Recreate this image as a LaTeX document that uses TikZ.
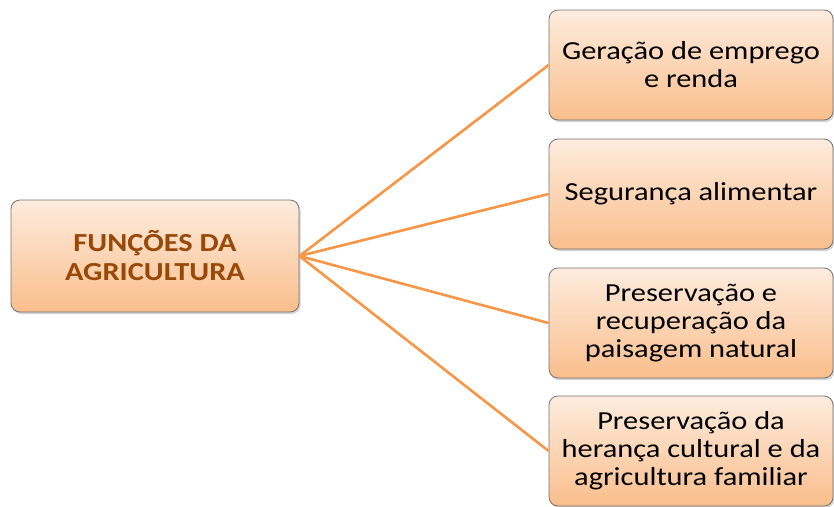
\documentclass[tikz,border=0pt]{standalone}
\usepackage{fontspec}
\setmainfont{Carlito}[FakeStretch=1.17]
\usetikzlibrary{shadows}
\definecolor{peachtop}{RGB}{253,236,222}
\definecolor{peachbot}{RGB}{250,190,140}
\definecolor{linkorange}{RGB}{247,150,70}
\definecolor{titlebrown}{RGB}{152,72,7}
\begin{document}
\begin{tikzpicture}[x=1pt,y=-1pt,
    box/.style={draw=black!55, line width=0.8pt, rounded corners=9pt,
      top color=peachtop, bottom color=peachbot,
      drop shadow={shadow xshift=1.5pt, shadow yshift=-2pt, opacity=0.35},
      align=center, inner sep=0pt, minimum width=284pt, minimum height=110pt,
      font=\fontsize{26}{28}\selectfont},
    link/.style={draw=linkorange, line width=2.6pt}]
    \useasboundingbox (0,0) rectangle (834,506);
    % central box
    \node[box, minimum width=288pt, minimum height=112pt, text=titlebrown,
      font=\fontsize{26}{29}\selectfont\bfseries] (funcoes) at (155,256)
      {FUNÇÕES DA\\AGRICULTURA};
    % the four functions
    \node[box] (emprego) at (691,65) {Geração de emprego\\e renda};
    \node[box] (seguranca) at (691,194) {Segurança alimentar};
    \node[box] (paisagem) at (691,323) {Preservação e\\recuperação da\\paisagem natural};
    \node[box] (heranca) at (691,451) {Preservação da\\herança cultural e da\\agricultura familiar};
    % links
    \draw[link] (funcoes.east) -- (emprego.west);
    \draw[link] (funcoes.east) -- (seguranca.west);
    \draw[link] (funcoes.east) -- (paisagem.west);
    \draw[link] (funcoes.east) -- (heranca.west);
\end{tikzpicture}
\end{document}
